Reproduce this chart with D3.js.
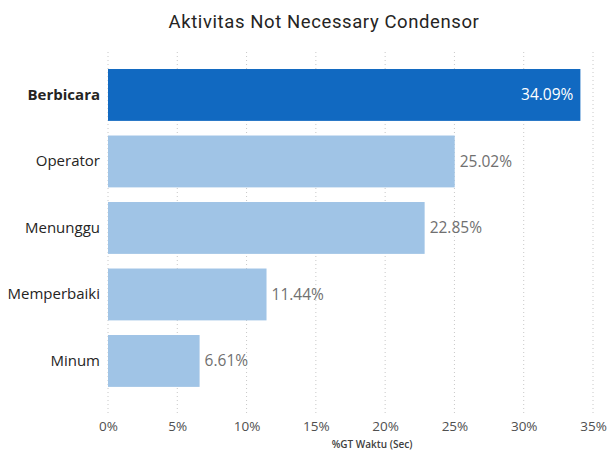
<!DOCTYPE html>
<html>
<head>
<meta charset="utf-8">
<script src="https://cdn.jsdelivr.net/npm/d3@7"></script>
<style>
  html, body { margin: 0; padding: 0; background: #fff; }
  svg { display: block; }
</style>
</head>
<body>
<svg id="chart" width="608" height="450"></svg>
<script>
const categories = ["Berbicara", "Operator", "Menunggu", "Memperbaiki", "Minum"];
const values = [34.09, 25.02, 22.85, 11.44, 6.61];
const highlighted = ["Berbicara"];
const tickValues = [0, 5, 10, 15, 20, 25, 30, 35];
const tickLabels = ["0%", "5%", "10%", "15%", "20%", "25%", "30%", "35%"];

const svg = d3.select("#chart");
const font = "'Segoe UI', 'Open Sans', 'Noto Sans', sans-serif";

const x = d3.scaleLinear().domain([0, 35]).range([108, 593]);
const y = d3.scaleBand().domain(categories).range([61.7, 394.2])
  .paddingInner(0.22).paddingOuter(0.11);

// Title
svg.append("text")
  .attr("x", 324).attr("y", 28)
  .attr("text-anchor", "middle")
  .attr("font-family", "'DIN', 'Roboto', 'Noto Sans', sans-serif")
  .attr("font-size", 18.5)
  .attr("letter-spacing", 0.6)
  .attr("fill", "#252423")
  .text("Aktivitas Not Necessary Condensor");

// Dotted vertical gridlines
svg.append("g").selectAll("line")
  .data(tickValues)
  .join("line")
  .attr("x1", d => x(d)).attr("x2", d => x(d))
  .attr("y1", 52).attr("y2", 414)
  .attr("stroke", "#c8c8c8")
  .attr("stroke-width", 1)
  .attr("stroke-dasharray", "1,3");

// Bars
svg.append("g").selectAll("rect")
  .data(categories)
  .join("rect")
  .attr("x", x(0))
  .attr("y", d => y(d))
  .attr("width", (d, i) => x(values[i]) - x(0))
  .attr("height", y.bandwidth())
  .attr("fill", d => highlighted.includes(d) ? "#1169c1" : "#a0c4e6");

// Value labels
svg.append("g").selectAll("text")
  .data(categories)
  .join("text")
  .attr("x", (d, i) => highlighted.includes(d) ? x(values[i]) - 7 : x(values[i]) + 5)
  .attr("y", d => y(d) + y.bandwidth() / 2)
  .attr("dy", "0.35em")
  .attr("text-anchor", d => highlighted.includes(d) ? "end" : "start")
  .attr("font-family", font)
  .attr("font-size", 15.5)
  .attr("fill", d => highlighted.includes(d) ? "#ffffff" : "#707070")
  .text((d, i) => values[i].toFixed(2) + "%");

// Category axis
const yAxis = svg.append("g")
  .attr("transform", "translate(100,0)")
  .call(d3.axisLeft(y).tickSize(0).tickPadding(0));
yAxis.select(".domain").remove();
yAxis.selectAll("text")
  .attr("font-family", font)
  .attr("font-size", 15)
  .attr("fill", "#252423")
  .attr("font-weight", d => highlighted.includes(d) ? "bold" : "normal");

// Value axis
const xAxis = svg.append("g")
  .attr("transform", "translate(0,421)")
  .call(d3.axisBottom(x).tickValues(tickValues)
    .tickFormat((d, i) => tickLabels[i]).tickSize(0).tickPadding(0));
xAxis.select(".domain").remove();
xAxis.selectAll("text")
  .attr("font-family", font)
  .attr("font-size", 13.5)
  .attr("fill", "#505050");

// Axis title
svg.append("text")
  .attr("x", 372).attr("y", 448)
  .attr("text-anchor", "middle")
  .attr("font-family", font)
  .attr("font-size", 10)
  .attr("font-weight", 600)
  .attr("fill", "#404040")
  .text("%GT Waktu (Sec)");
</script>
</body>
</html>
